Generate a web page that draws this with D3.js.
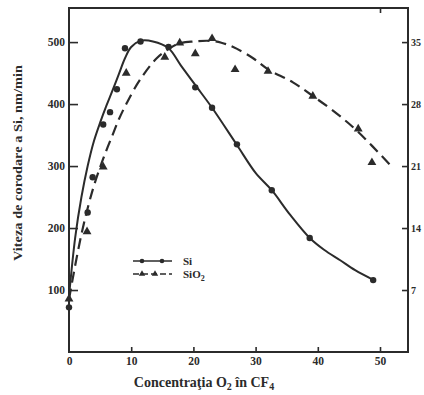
<!DOCTYPE html>
<html>
<head>
<meta charset="utf-8">
<script src="https://cdn.jsdelivr.net/npm/d3@7"></script>
<style>
  body { margin: 0; background: #fff; }
  svg text { font-family: "Liberation Serif", "DejaVu Serif", serif; font-weight: bold; fill: #2b2b2b; }
</style>
</head>
<body>
<div id="grafic"></div>
<script>
// Si: measured points (left axis, nm/min)
const siX = [0, 3, 3.8, 5.5, 6.6, 7.7, 9, 11.5, 16, 20.3, 23, 27, 32.6, 38.7, 48.9];
const siY = [72, 225, 282, 367, 387, 424, 490, 501, 492, 427, 394, 335, 261, 184, 116];
// Si: fitted curve
const siFitX = [0, 1, 2, 3, 4, 5, 6, 7, 8, 9, 10, 11.5, 13.5, 16, 18, 20.5, 23, 27, 30, 32.6, 35.5, 38.7, 41, 43.6, 46, 49];
const siFitY = [90, 185, 250, 300, 340, 370, 397, 422, 448, 474, 492, 502, 501, 490, 462, 428, 394, 334, 289, 261, 222, 184, 165, 148, 132, 116];

// SiO2: measured points (right axis)
const sioX = [0, 2.9, 5.5, 9.2, 15.4, 17.8, 20.3, 23, 26.7, 32, 39.2, 46.5, 48.7];
const sioY = [6.0, 13.6, 20.9, 31.5, 33.3, 34.9, 33.7, 35.4, 31.9, 31.7, 28.9, 25.2, 21.4];
// SiO2: fitted curve (right axis)
const sioFitX = [0, 1, 2, 3, 4, 5, 6, 7, 8, 9.3, 11.4, 14.1, 16.2, 17.8, 20, 22.7, 24.5, 26.4, 29.6, 32, 36, 39.2, 43, 46.5, 51.6];
const sioFitY = [5.95, 9.8, 13.3, 16.24, 18.76, 20.86, 22.75, 24.5, 26.25, 28.14, 30.73, 33.18, 34.3, 34.86, 35.07, 35.14, 34.93, 34.44, 33.18, 31.92, 30.45, 28.91, 26.95, 24.85, 21.14];

const xTicks = [0, 10, 20, 30, 40, 50];
const xTickLabels = ['0', '10', '20', '30', '40', '50'];
const yLeftTicks = [100, 200, 300, 400, 500];
const yRightTicks = [7, 14, 21, 28, 35];

const ink = '#2b2b2b';
const W = 424, H = 395;
const m = { left: 69, right: 408, top: 8, bottom: 352 };

const svg = d3.select('#grafic').append('svg')
  .attr('width', W).attr('height', H);

const x = d3.scaleLinear().domain([0, 54.5]).range([m.left, m.right]);
const y = d3.scaleLinear().domain([0, 555]).range([m.bottom, m.top]);
const y2 = d3.scaleLinear().domain([0, 555 * 0.07]).range([m.bottom, m.top]);

// axes (ticks drawn inward, like the original)
const axL = svg.append('g').attr('transform', `translate(${m.left},0)`)
  .call(d3.axisLeft(y).tickValues(yLeftTicks).tickSizeInner(-9).tickSizeOuter(0).tickPadding(4));
const axR = svg.append('g').attr('transform', `translate(${m.right},0)`)
  .call(d3.axisRight(y2).tickValues(yRightTicks).tickSizeInner(-6).tickSizeOuter(0).tickPadding(3));
const axB = svg.append('g').attr('transform', `translate(0,${m.bottom})`)
  .call(d3.axisBottom(x).tickValues(xTicks).tickFormat((d, i) => xTickLabels[i]).tickSizeInner(-5).tickSizeOuter(0).tickPadding(5));
const axT = svg.append('g').attr('transform', `translate(0,${m.top})`)
  .call(d3.axisTop(x).tickValues([50]).tickFormat('').tickSizeInner(-5).tickSizeOuter(0));

[axL, axR, axB, axT].forEach(a => {
  a.select('.domain').remove();
  a.selectAll('line').attr('stroke', ink).attr('stroke-width', 1.6);
  a.selectAll('text').style('font-size', '11.5px').attr('fill', ink);
});
axR.selectAll('text').style('font-size', '10px');
axB.selectAll('line').filter(d => d === 0).remove();

// frame
svg.append('rect')
  .attr('x', m.left).attr('y', m.top)
  .attr('width', m.right - m.left).attr('height', m.bottom - m.top)
  .attr('fill', 'none').attr('stroke', ink).attr('stroke-width', 2);

// curves
const lineL = d3.line().x(d => x(d[0])).y(d => y(d[1])).curve(d3.curveCatmullRom.alpha(0.5));
const lineR = d3.line().x(d => x(d[0])).y(d => y2(d[1])).curve(d3.curveCatmullRom.alpha(0.5));

svg.append('path')
  .datum(siFitX.map((v, i) => [v, siFitY[i]]))
  .attr('d', lineL)
  .attr('fill', 'none').attr('stroke', ink).attr('stroke-width', 2);

svg.append('path')
  .datum(sioFitX.map((v, i) => [v, sioFitY[i]]))
  .attr('d', lineR)
  .attr('fill', 'none').attr('stroke', ink).attr('stroke-width', 2.2)
  .attr('stroke-dasharray', '11,6');

// markers
svg.append('g').selectAll('circle')
  .data(siX.map((v, i) => [v, siY[i]]))
  .join('circle')
  .attr('cx', d => x(d[0])).attr('cy', d => y(d[1]))
  .attr('r', 3.2).attr('fill', ink);

const tri = d3.symbol().type(d3.symbolTriangle).size(34);
svg.append('g').selectAll('path')
  .data(sioX.map((v, i) => [v, sioY[i]]))
  .join('path')
  .attr('d', tri)
  .attr('transform', d => `translate(${x(d[0])},${y2(d[1])})`)
  .attr('fill', ink);

// legend
const lg = svg.append('g');
lg.append('line').attr('x1', 133).attr('x2', 172).attr('y1', 261).attr('y2', 261)
  .attr('stroke', ink).attr('stroke-width', 1.6);
[142, 162].forEach(cx => lg.append('circle').attr('cx', cx).attr('cy', 261).attr('r', 2.3).attr('fill', ink));
lg.append('text').attr('x', 183).attr('y', 265).style('font-size', '11px').text('Si');

lg.append('line').attr('x1', 133).attr('x2', 172).attr('y1', 274).attr('y2', 274)
  .attr('stroke', ink).attr('stroke-width', 1.6).attr('stroke-dasharray', '6,3');
[142, 155].forEach(cx => lg.append('path').attr('d', d3.symbol().type(d3.symbolTriangle).size(18))
  .attr('transform', `translate(${cx},274)`).attr('fill', ink));
const sio = lg.append('text').attr('x', 183).attr('y', 278).style('font-size', '11px');
sio.append('tspan').text('SiO');
sio.append('tspan').attr('dy', 3).style('font-size', '8px').text('2');

// axis titles
svg.append('text')
  .attr('transform', 'translate(22,163) rotate(-90)')
  .attr('text-anchor', 'middle')
  .style('font-size', '12px')
  .attr('textLength', 196)
  .attr('lengthAdjust', 'spacingAndGlyphs')
  .text('Viteza de corodare a Si, nm/min');

const xt = svg.append('text')
  .attr('x', 204).attr('y', 387)
  .attr('text-anchor', 'middle')
  .style('font-size', '14px');
xt.append('tspan').text('Concentraţia O');
xt.append('tspan').attr('dy', 3).style('font-size', '10px').text('2');
xt.append('tspan').attr('dy', -3).text(' în CF');
xt.append('tspan').attr('dy', 3).style('font-size', '10px').text('4');
</script>
</body>
</html>
